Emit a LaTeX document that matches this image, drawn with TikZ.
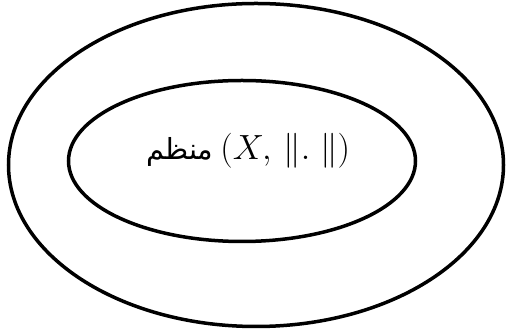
\RequirePackage{fix-cm}
\documentclass[tikz,border=0pt]{standalone}
\usepackage{fontspec}
\newfontfamily\arabicfont[Script=Arabic]{DejaVu Sans}
\TeXXeTstate=1
\usetikzlibrary{shapes.geometric}
\begin{document}
\begin{tikzpicture}[x=1pt,y=1pt,
  ring/.style={draw, ellipse, line width=3.5pt, inner sep=0pt}]
\useasboundingbox (0,0) rectangle (508,331);
\node[ring, minimum width=495pt, minimum height=323pt] (outer) at (256,166) {};
\node[ring, minimum width=347pt, minimum height=161pt] (inner) at (242,170) {};
\node[inner sep=0pt] (label) at (248,180) {{\fontsize{29}{34}\selectfont\arabicfont\beginR منظم\endR}\hspace{7pt}{\fontsize{35}{40}\selectfont$(X,\,\|.\;\|)$}};
\end{tikzpicture}
\end{document}
